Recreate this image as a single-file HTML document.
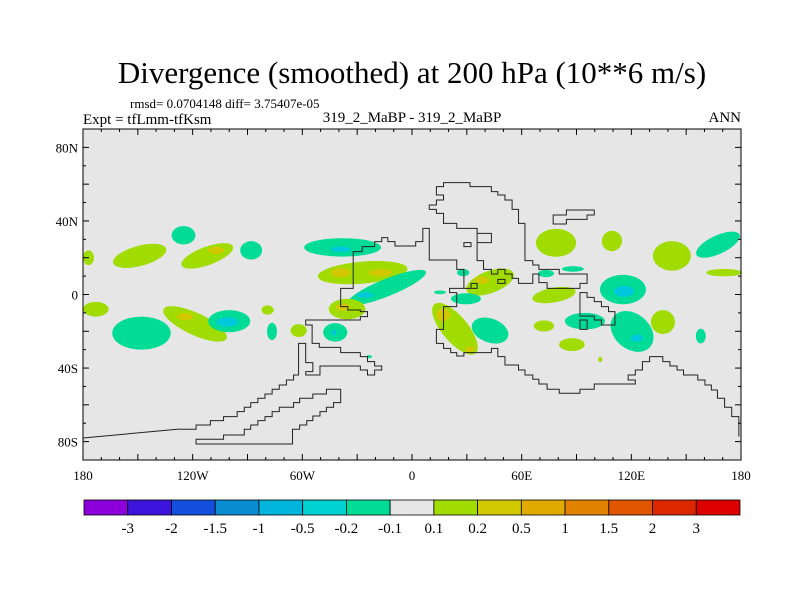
<!DOCTYPE html>
<html><head><meta charset="utf-8"><style>
body{margin:0;background:#fff;width:800px;height:600px;overflow:hidden;font-family:"Liberation Serif",serif;}
svg text{font-family:"Liberation Serif",serif;fill:#000;}
</style></head><body>
<svg id="chart" width="800" height="600" viewBox="0 0 800 600" xmlns="http://www.w3.org/2000/svg">
<text x="412" y="83" font-size="31" text-anchor="middle">Divergence (smoothed) at 200 hPa (10**6 m/s)</text>
<text x="130" y="108" font-size="13">rmsd= 0.0704148 diff= 3.75407e-05</text>
<text x="83" y="124" font-size="15">Expt = tfLmm-tfKsm</text>
<text x="412" y="122" font-size="15" text-anchor="middle">319_2_MaBP - 319_2_MaBP</text>
<text x="741" y="122" font-size="15" text-anchor="end">ANN</text>
<rect x="83" y="129" width="658" height="331" fill="#e6e6e6"/>
<g id="blobs"></g>
<g id="coast" fill="none" stroke="#222" stroke-width="1">
<path vector-effect="non-scaling-stroke" transform="translate(180,170) scale(0.3571,0.3333)" d="M738,38 L812,38 812,50 872,50 872,65 890,65 890,75 910,75 910,90 930,90 930,118 948,118 948,160 966,160 966,272 988,272 988,285 1005,285 1005,298 1062,298 1062,312 1140,312 1140,340 1120,340 1120,355 1028,355 1028,338 1005,338 1005,312 988,312 988,340 948,340 948,325 930,325 930,312 910,312 910,298 890,298 890,312 872,312 872,298 850,298 850,272 832,272 832,190 872,190 872,218 832,218 832,175 775,175 775,160 738,160 738,130 718,130 718,118 698,118 698,105 718,105 718,90 738,90 738,75 718,75 718,50 738,50Z"/>
<path vector-effect="non-scaling-stroke" transform="translate(180,170) scale(0.3571,0.3333)" d="M0,778 L45,778 45,765 85,765 85,752 122,752 122,740 160,740 160,725 180,725 180,712 198,712 198,698 218,698 218,685 238,685 238,672 258,672 258,658 278,658 278,645 298,645 298,630 318,630 318,615 332,615 332,520 352,520 352,578 372,578 372,605 352,605 352,615 392,615 392,588 505,588 505,600 525,600 525,615 545,615 545,600 565,600 565,588 545,588 545,575 525,575 525,560 505,560 505,548 450,548 450,532 390,532 390,520 370,520 370,465 352,465 352,450 505,450 505,440 525,440 525,425 505,425 505,420 470,420 470,410 450,410 450,355 485,355 485,245 510,245 510,230 545,230 545,215 565,215 565,203 582,203 582,215 602,215 602,228 660,228 660,215 680,215 680,175 698,175 698,270 775,270 775,298 795,298 795,355 832,355 832,340 815,340 815,355 755,355 755,368 775,368 775,410 738,410 738,478 718,478 718,520 738,520 738,535 758,535 758,548 775,548 775,558 795,558 795,548 872,548 872,535 890,535 890,560 910,560 910,585 948,585 948,600 966,600 966,615 988,615 988,628 1005,628 1005,642 1028,642 1028,658 1062,658 1062,670 1120,670 1120,658 1160,658 1160,642 1275,642 1275,630 1255,630 1255,615 1275,615 1275,600 1295,600 1295,575 1315,575 1315,560 1352,560 1352,575 1372,575 1372,588 1392,588 1392,600 1410,600 1410,615 1450,615 1450,630 1470,630 1470,645 1488,645 1488,660 1505,660 1505,685 1525,685 1525,712 1545,712 1545,740 1565,740 1565,800"/>
<path vector-effect="non-scaling-stroke" transform="translate(180,170) scale(0.3571,0.3333)" d="M45,808 L45,822 315,822 315,778 335,778 335,765 355,765 355,752 372,752 372,738 392,738 392,725 410,725 410,712 430,712 430,698 450,698 450,658 410,658 410,672 372,672 372,685 335,685 335,698 318,698 318,712 278,712 278,725 258,725 258,740 238,740 238,752 218,752 218,765 198,765 198,778 180,778 180,795 122,795 122,808Z"/>
<path vector-effect="non-scaling-stroke" transform="translate(180,170) scale(0.3571,0.3333)" d="M1045,135 L1045,162 1082,162 1082,148 1140,148 1140,135 1160,135 1160,120 1082,120 1082,135Z M795,218 L815,218 815,230 795,230Z M890,328 L910,328 910,340 890,340Z M1120,368 L1140,368 1140,382 1160,382 1160,395 1180,395 1180,410 1200,410 1200,425 1218,425 1218,465 1180,465 1180,450 1160,450 1160,438 1120,438Z M1120,450 L1140,450 1140,478 1120,478Z"/>
<path d="M83,438 L180,429"/>
</g>
<rect x="83" y="129" width="658" height="331" fill="none" stroke="#000" stroke-width="1"/>
<g id="ticks" stroke="#000" stroke-width="1"></g>
<g id="labels" font-size="13"></g>
<g id="colorbar"></g>
</svg>
<script>
// blob data: longitude, latitude, half-width (deg), half-height (deg), level index, rotation
const blobLon = [-148,-173,-177,-149,-125,-112,-107,-88,-38,-39,-27,-39,-17.5,-13.7,-25.7,-35.5,-37.7,-118.7,-124,-100,-101,-79,-76.6,-62,-42,-42.7,28,42.7,38.3,15.3,29.5,23.5,17,31.7,42.7,73.3,88,77.7,78.8,109.4,142.2,167.4,170.7,115.4,116,94.6,120.4,123,137.3,72.2,87.5,103,158,-23.5];
const blobLat = [-21,-8,20,21,32.2,21,24,24,25.6,24.6,11.9,11.9,11.9,3.8,-0.3,-7.9,-6.9,-16,-12,-14.5,-15,-8.4,-20.1,-19.6,-20.6,-20.6,11.9,6.8,7.8,1.2,-2.3,-18.6,-11,-29.7,-19.6,11.4,13.9,-0.3,28.1,29.1,21,27.1,11.9,2.7,1.7,-14.5,-20.1,-23.7,-15,-17.1,-27.2,-35.3,-22.6,-33.8];
const blobRx = [16,7,3,15,6.5,15,4.4,6,21,5.5,24.6,5.5,6.5,23,4.4,10,3.8,19,4.4,11.5,6,3.3,2.7,4.4,6.6,1.6,3.3,13.7,3.8,3.3,8.2,17.5,3.8,2.7,10.4,4.4,6,12,11,5.5,10.4,13,9.8,12.6,5.5,11,13,3.3,6.6,5.5,7,1.1,2.7,1.6];
const blobRy = [9,4,4,5.5,5,5,2,5,5,1.5,6,2.5,2,4.7,1.5,5.6,2,6,2,6,2.5,2.5,4.7,3.5,5,1.5,2,6,2,1,3,7,3.5,1.5,6.5,2,1.5,4,7.6,5.6,8,5,2,8,3,4.5,9.6,2,6.5,3,3.5,1.5,4,0.8];
// level: 0 = -0.2..-0.1, 1 = -0.5..-0.2, 2 = 0.1..0.2, 3 = 0.2..0.5
const blobLevel = [0,2,2,2,0,2,3,0,0,1,2,3,3,0,1,2,3,2,3,0,1,2,0,2,0,1,0,2,3,0,0,2,3,3,0,0,0,2,2,2,2,0,2,0,1,0,0,1,2,2,2,2,0,0];
const blobRot = [0,0,0,-15,0,-20,0,0,0,0,-5,0,0,-22,0,0,0,25,0,0,0,0,0,0,0,0,0,-20,0,0,0,50,0,0,20,0,0,-10,0,30,0,-25,0,0,0,0,40,0,0,0,0,0,0,0];
const barLabels = ["-3","-2","-1.5","-1","-0.5","-0.2","-0.1","0.1","0.2","0.5","1","1.5","2","3"];
const barColors = ["#8c00dc","#3c14dc","#1450dc","#0a8cd2","#00b4dc","#00d2d2","#00dc96","#e6e6e6","#a0dc00","#d2c800","#e1aa00","#e18200","#e15500","#dc2800","#dc0000"];
const levelColors = ["#00dc96","#00c8dc","#a0dc00","#d2c800"];
const lonTicks = [-180,-120,-60,0,60,120,180];
const lonTickLabels = ["180","120W","60W","0","60E","120E","180"];
const latTicks = [80,40,0,-40,-80];
const latTickLabels = ["80N","40N","0","40S","80S"];

const NS="http://www.w3.org/2000/svg";
const X0=83,X1=741,Y0=129,Y1=460;
const xs = lon => X0 + (lon+180)/360*(X1-X0);
const ys = lat => Y0 + (90-lat)/180*(Y1-Y0);
const kx=(X1-X0)/360, ky=(Y1-Y0)/180;
function mk(tag,parent){const e=document.createElementNS(NS,tag);parent.appendChild(e);return e;}

const gB=document.getElementById('blobs');
for(let i=0;i<blobLon.length;i++){
  const e=mk('ellipse',gB);
  
  
  const cx=xs(blobLon[i]), cy=ys(blobLat[i]);
  e.setAttribute('cx',cx);e.setAttribute('cy',cy);
  e.setAttribute('rx',blobRx[i]*kx);e.setAttribute('ry',blobRy[i]*ky);
  e.setAttribute('fill',levelColors[blobLevel[i]]);
  if(blobRot[i])e.setAttribute('transform',`rotate(${blobRot[i]} ${cx} ${cy})`);
}

const gT=document.getElementById('ticks');
for(let lon=-180;lon<=180;lon+=10){
  const x=xs(lon), len=(lon%30===0)?6:3;
  for(const [a,b] of [[Y1,Y1-len],[Y0,Y0+len]]){
    const l=mk('line',gT);
    
    
    l.setAttribute('x1',x);l.setAttribute('x2',x);l.setAttribute('y1',a);l.setAttribute('y2',b);
  }
}
for(let lat=-90;lat<=90;lat+=10){
  const y=ys(lat), len=(lat%20===0)?6:3;
  for(const [a,b] of [[X0,X0+len],[X1,X1-len]]){
    const l=mk('line',gT);
    
    
    l.setAttribute('y1',y);l.setAttribute('y2',y);l.setAttribute('x1',a);l.setAttribute('x2',b);
  }
}
const gL=document.getElementById('labels');
lonTicks.forEach((v,i)=>{
  const t=mk('text',gL);
  
  
  t.setAttribute('x',xs(v));t.setAttribute('y',480);t.setAttribute('text-anchor','middle');
  t.textContent=lonTickLabels[i];
});
latTicks.forEach((v,i)=>{
  const t=mk('text',gL);
  
  
  t.setAttribute('x',78);t.setAttribute('y',ys(v)+5);t.setAttribute('text-anchor','end');
  t.textContent=latTickLabels[i];
});

const gC=document.getElementById('colorbar');
const CB0=84,CB1=740,bw=(CB1-CB0)/barColors.length;
barColors.forEach((c,i)=>{
  const r=mk('rect',gC);
  
  
  r.setAttribute('x',CB0+i*bw);r.setAttribute('y',500);r.setAttribute('width',bw);r.setAttribute('height',15);
  r.setAttribute('fill',c);r.setAttribute('stroke','#000');r.setAttribute('stroke-width','0.8');
});
barLabels.forEach((s,i)=>{
  const t=mk('text',gC);
  
  
  t.setAttribute('x',CB0+(i+1)*bw);t.setAttribute('y',533);t.setAttribute('text-anchor','middle');t.setAttribute('font-size','15');
  t.textContent=s;
});
</script>
</body></html>
